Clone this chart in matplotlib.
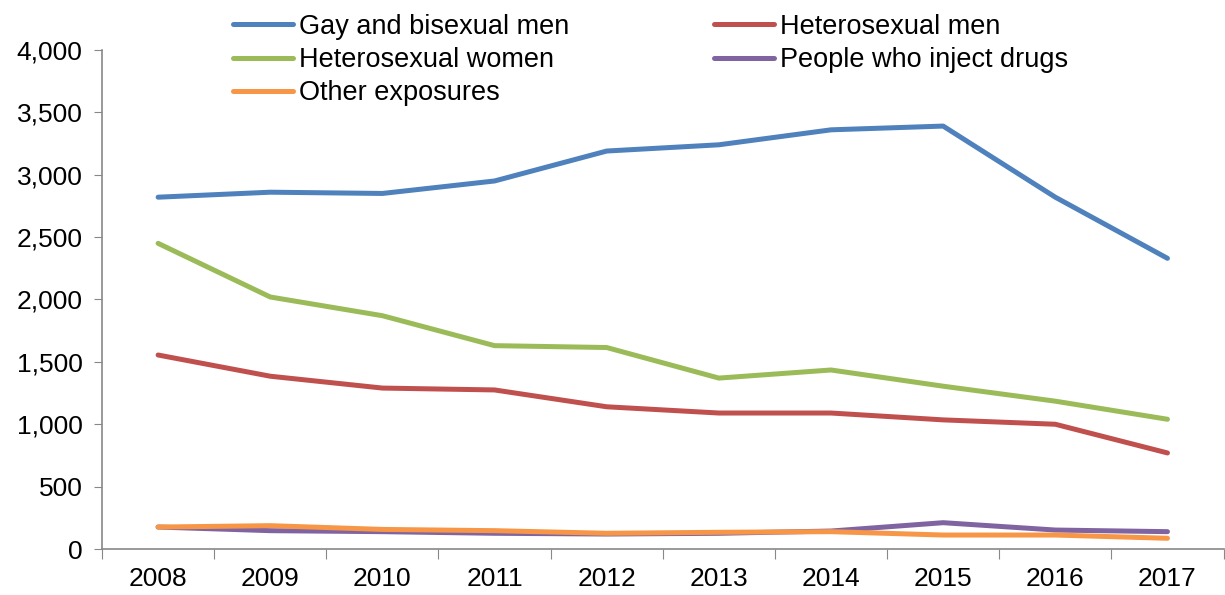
import matplotlib.pyplot as plt
from matplotlib.ticker import FuncFormatter, FixedLocator

plt.rcParams['font.family'] = ['Liberation Sans', 'DejaVu Sans']

years = ['2008', '2009', '2010', '2011', '2012', '2013', '2014', '2015', '2016', '2017']
gay_bi_men = [2820, 2860, 2850, 2950, 3190, 3240, 3360, 3390, 2820, 2330]
hetero_men = [1555, 1385, 1290, 1275, 1140, 1090, 1090, 1035, 1000, 770]
hetero_women = [2450, 2020, 1870, 1630, 1615, 1370, 1435, 1305, 1185, 1040]
pwid = [176, 147, 139, 126, 120, 126, 144, 211, 152, 139]
other = [176, 187, 157, 147, 126, 134, 139, 112, 112, 86]

x = list(range(len(years)))
fig = plt.figure(figsize=(12.25, 5.95), dpi=100)
ax = fig.add_axes([0.0833, 0.0773, 0.9155, 0.8387])

lw = 3.6
l_gay, = ax.plot(x, gay_bi_men, color='#4F81BD', lw=lw, solid_capstyle='round', label='Gay and bisexual men')
l_men, = ax.plot(x, hetero_men, color='#C0504D', lw=lw, solid_capstyle='round', label='Heterosexual men')
l_wom, = ax.plot(x, hetero_women, color='#9BBB59', lw=lw, solid_capstyle='round', label='Heterosexual women')
l_pwid, = ax.plot(x, pwid, color='#8064A2', lw=lw, solid_capstyle='round', label='People who inject drugs')
l_oth, = ax.plot(x, other, color='#F79646', lw=lw, solid_capstyle='round', label='Other exposures')

ax.set_xlim(-0.5, len(years) - 0.5)
ax.set_ylim(0, 4000)
ax.set_yticks(range(0, 4001, 500))
ax.yaxis.set_major_formatter(FuncFormatter(lambda v, p: f'{int(v):,}'))

# x ticks at category boundaries, labels centred on categories
ax.xaxis.set_major_locator(FixedLocator([i - 0.5 for i in range(len(years) + 1)]))
ax.xaxis.set_minor_locator(FixedLocator(x))
ax.set_xticklabels([])
ax.set_xticklabels(years, minor=True)
ax.tick_params(axis='x', which='minor', length=0, pad=13, labelsize=19)
ax.tick_params(axis='x', which='major', length=7, color='#888888', direction='out')
ax.tick_params(axis='y', length=6, color='#888888', direction='out', pad=8, labelsize=19)

for s in ['top', 'right']:
    ax.spines[s].set_visible(False)
for s in ['left', 'bottom']:
    ax.spines[s].set_color('#888888')
    ax.spines[s].set_linewidth(1.2)

handles = [l_gay, l_wom, l_oth, l_men, l_pwid]
fig.legend(handles, [h.get_label() for h in handles], ncol=2, frameon=False,
           loc='upper left', bbox_to_anchor=(0.1905, 0.977), fontsize=19.5,
           handlelength=2.2, handletextpad=0.22, columnspacing=5.35, labelspacing=0.27,
           borderaxespad=0, borderpad=0)

fig.savefig('out.png', dpi=100)
